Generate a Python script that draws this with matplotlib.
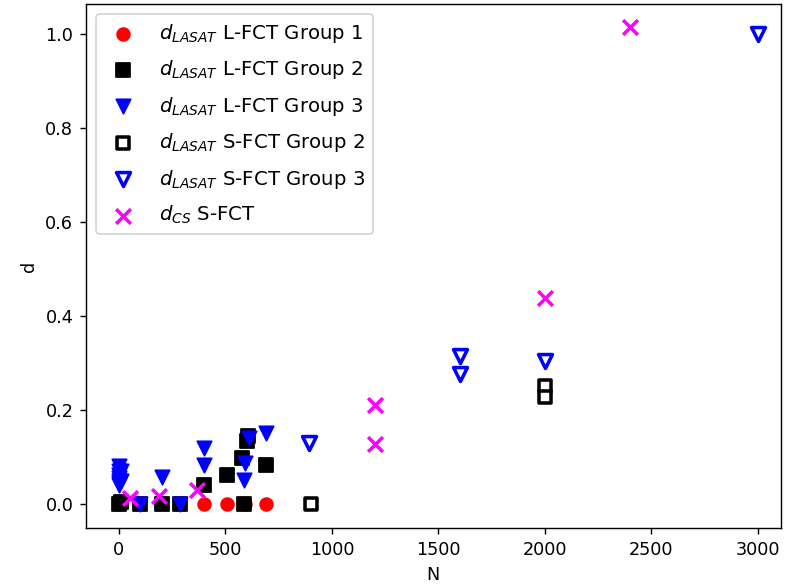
import matplotlib
matplotlib.use("Agg")
import matplotlib.pyplot as plt

# d_LASAT, L-FCT group 1
l1_n = [0, 400, 505, 590, 692]
l1_d = [0.0, 0.0, 0.0, 0.0, 0.0]

# d_LASAT, L-FCT group 2
l2_n = [0, 10, 100, 200, 285, 398, 507, 578, 585, 601, 605, 692]
l2_d = [0.0, 0.005, 0.0, 0.0, 0.0, 0.040, 0.062, 0.097, 0.0, 0.133, 0.145, 0.083]

# d_LASAT, L-FCT group 3
l3_n = [0, 0, 0, 0, 0, 0, 0, 8, 8, 100, 200, 285, 400, 400, 585, 593, 609, 692]
l3_d = [0.040, 0.045, 0.050, 0.055, 0.062, 0.070, 0.080, 0.050, 0.070,
        0.0, 0.058, 0.0, 0.119, 0.083, 0.051, 0.087, 0.140, 0.150]

# d_LASAT, S-FCT group 2
s2_n = [900, 2000, 2000]
s2_d = [0.0, 0.251, 0.228]

# d_LASAT, S-FCT group 3
s3_n = [890, 1600, 1600, 2000, 3000]
s3_d = [0.129, 0.314, 0.276, 0.305, 1.0]

# d_CS, S-FCT
cs_n = [50, 190, 367, 1200, 1200, 2000, 2400]
cs_d = [0.013, 0.017, 0.030, 0.128, 0.211, 0.438, 1.015]

DPI = 127
fig = plt.figure(figsize=(787 / DPI, 588 / DPI), dpi=DPI)
ax = fig.add_axes([85.7 / 787, 1 - 528.3 / 588, (781 - 85.7) / 787, (528.3 - 4) / 588])

ax.scatter(l1_n, l1_d, s=52, marker="o", c="r", label=r"$d_{LASAT}$ L-FCT Group 1")
ax.scatter(l2_n, l2_d, s=57, marker="s", c="k", label=r"$d_{LASAT}$ L-FCT Group 2")
ax.scatter(l3_n, l3_d, s=66, marker="v", c="b", label=r"$d_{LASAT}$ L-FCT Group 3")
ax.scatter(s2_n, s2_d, s=43, marker="s", facecolors="white", edgecolors="k",
           linewidths=2, label=r"$d_{LASAT}$ S-FCT Group 2")
ax.scatter(s3_n, s3_d, s=62, marker="v", facecolors="white", edgecolors="b",
           linewidths=2, label=r"$d_{LASAT}$ S-FCT Group 3")
ax.scatter(cs_n, cs_d, s=70, marker="x", c="#ff00ff", linewidths=2, label=r"$d_{CS}$ S-FCT")

ax.set_xlim(-156, 3108)
ax.set_ylim(-0.0516, 1.063)
ax.set_xlabel("N")
ax.set_ylabel("d")
ax.legend(loc="upper left", fontsize=11.2, labelspacing=0.68)

fig.savefig("out.png", dpi=DPI)
